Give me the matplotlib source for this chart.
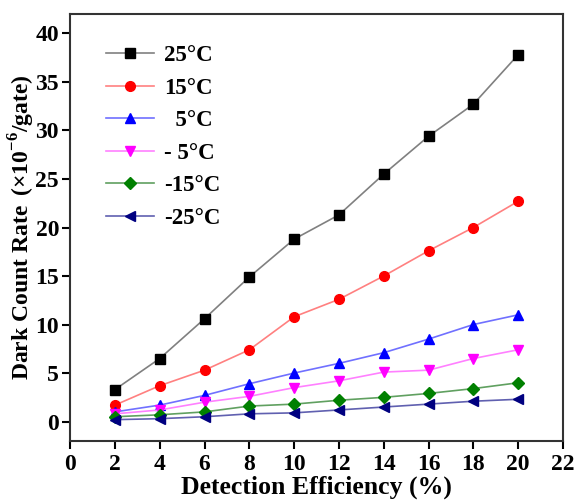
import numpy as np
import matplotlib.pyplot as plt

plt.rcParams['font.family'] = ['Liberation Serif', 'DejaVu Serif']
plt.rcParams['font.weight'] = 'bold'
plt.rcParams['mathtext.fontset'] = 'custom'
plt.rcParams['mathtext.rm'] = 'Liberation Serif:bold'
plt.rcParams['mathtext.bf'] = 'Liberation Serif:bold'

efficiency = [2, 4, 6, 8, 10, 12, 14, 16, 18, 20]
t25 = [3.3, 6.5, 10.6, 14.9, 18.8, 21.3, 25.5, 29.4, 32.7, 37.8]
t15 = [1.7, 3.7, 5.3, 7.4, 10.8, 12.6, 15.0, 17.6, 20.0, 22.7]
t5 = [1.0, 1.7, 2.7, 3.9, 5.0, 6.0, 7.1, 8.5, 10.0, 11.0]
tm5 = [0.8, 1.2, 2.0, 2.6, 3.5, 4.2, 5.1, 5.3, 6.5, 7.4]
tm15 = [0.5, 0.7, 1.0, 1.6, 1.8, 2.2, 2.5, 2.9, 3.4, 4.0]
tm25 = [0.2, 0.3, 0.5, 0.8, 0.9, 1.2, 1.5, 1.8, 2.1, 2.3]

series = [
    (t25, '25°C', 's', 'black', '#808080'),
    (t15, '15°C', 'o', 'red', '#ff8080'),
    (t5, '  5°C', '^', 'blue', '#7070ff'),
    (tm5, '- 5°C', 'v', 'magenta', '#ff80ff'),
    (tm15, '-15°C', 'D', 'green', '#60a060'),
    (tm25, '-25°C', '<', 'navy', '#6060b0'),
]

fig = plt.figure(figsize=(5.75, 5), dpi=100)
ax = fig.add_axes([0.122, 0.118, 0.857, 0.854])

for vals, lab, mk, mc, lc in series:
    ms = 6 if mk == 'D' else 7
    if mk == 's':
        ms = 6.5
    ax.plot(efficiency, vals, color=lc, lw=1.2, marker=mk, ms=ms,
            mfc=mc, mec=mc, label=lab)

ax.set_xlim(0, 22)
ax.set_ylim(-2, 42)
ax.set_xticks(np.arange(0, 23, 2))
ax.set_yticks(np.arange(0, 41, 5))
ax.tick_params(direction='out', length=6, width=1.5, labelsize=17,
               top=False, right=False)
ax.tick_params(axis='y', pad=2)
for s in ax.spines.values():
    s.set_linewidth(1.5)
    s.set_color('#333333')

ax.set_xlabel('Detection Efficiency (%)', fontsize=18.5, fontweight='bold', labelpad=0)
ax.set_ylabel(r'Dark Count Rate $\,(\times10^{-6}$/gate)', fontsize=17,
              fontweight='bold', labelpad=-1)

ax.legend(loc='upper left', frameon=False, fontsize=16.5, handlelength=2.1,
          labelspacing=0.5, handletextpad=0.45, bbox_to_anchor=(0.03, 0.975))

fig.savefig('out.png', dpi=100)
